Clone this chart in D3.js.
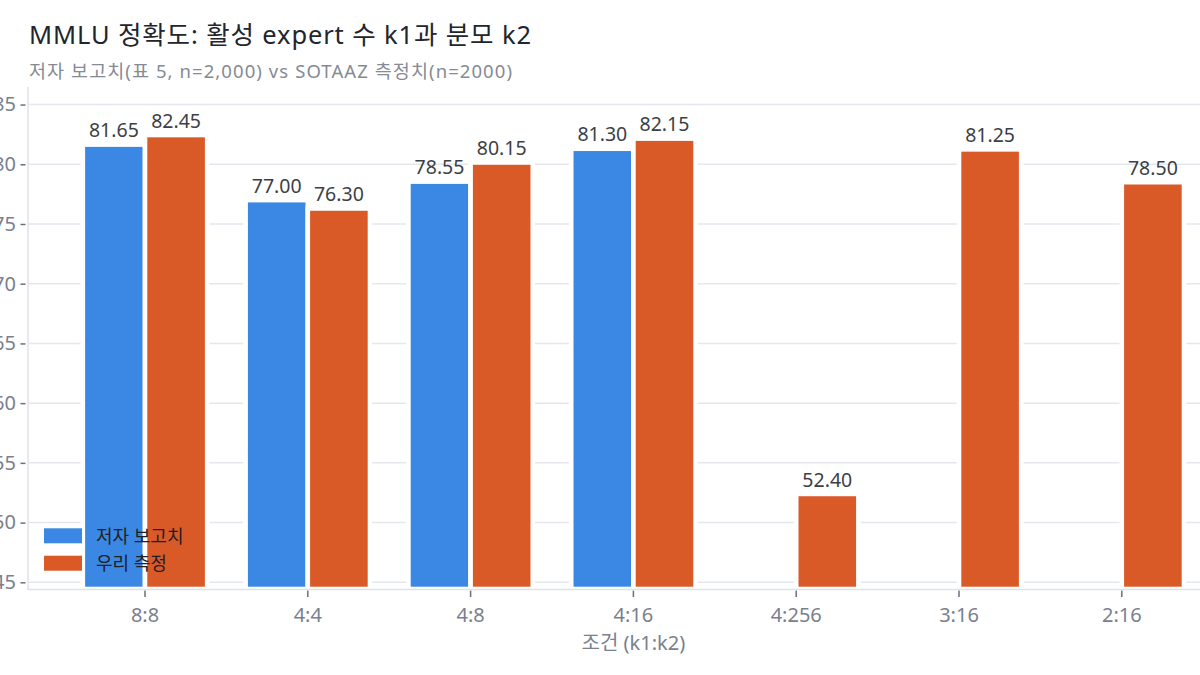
<!DOCTYPE html>
<html>
<head>
<meta charset="utf-8">
<script src="https://cdn.jsdelivr.net/npm/d3@7"></script>
<style>
  body { margin: 0; background: #fff; }
  svg { display: block; font-family: "Noto Sans", "Noto Sans CJK KR", sans-serif; }
</style>
</head>
<body>
<div id="chart"></div>
<script>
// chart values
const categories = ["8:8", "4:4", "4:8", "4:16", "4:256", "3:16", "2:16"];
const reported = [81.65, 77.00, 78.55, 81.30, null, null, null];
const measured = [82.45, 76.30, 80.15, 82.15, 52.40, 81.25, 78.50];
const yTicks = [45, 50, 55, 60, 65, 70, 75, 80, 85];
const seriesNames = ["저자 보고치", "우리 측정"];
const seriesColors = ["#3a88e3", "#d95927"];

const W = 1200, H = 675;
const plot = {left: 28, right: 1200, top: 87, bottom: 589};

const svg = d3.select("#chart").append("svg")
    .attr("width", W)
    .attr("height", H);

// band range runs a bit past the visible plot, like the reference crop
const x = d3.scaleBand()
    .domain(categories)
    .range([63.6, 1203.2]);
const barW = x.bandwidth() * 0.382;

const y = d3.scaleLinear()
    .domain([44.44, 86.47])
    .range([plot.bottom, plot.top]);

svg.append("defs").append("clipPath").attr("id", "clip")
    .append("rect")
    .attr("x", plot.left).attr("y", 0)
    .attr("width", plot.right - plot.left).attr("height", plot.bottom);

// gridlines
svg.append("g")
    .selectAll("line")
    .data(yTicks)
    .enter()
    .append("line")
    .attr("x1", plot.left + 1)
    .attr("x2", plot.right)
    .attr("y1", d => y(d))
    .attr("y2", d => y(d))
    .attr("stroke", "#e5e7ee")
    .attr("stroke-width", 1.5);

// bars
const series = [reported, measured];
const bars = svg.append("g").attr("clip-path", "url(#clip)");
series.forEach((vals, s) => {
    const rows = categories.map((c, i) => ({c: c, v: vals[i]})).filter(d => d.v != null);
    bars.selectAll("rect.s" + s)
        .data(rows)
        .enter()
        .append("rect")
        .attr("class", "s" + s)
        .attr("x", d => x(d.c) + x.bandwidth() / 2 + (s === 0 ? -barW : 0))
        .attr("y", d => y(d.v))
        .attr("width", barW)
        .attr("height", d => plot.bottom - y(d.v))
        .attr("fill", seriesColors[s])
        .attr("stroke", "#fff")
        .attr("stroke-width", 4.6);

    bars.selectAll("text.s" + s)
        .data(rows)
        .enter()
        .append("text")
        .attr("class", "s" + s)
        .attr("text-anchor", "middle")
        .attr("x", d => x(d.c) + x.bandwidth() / 2 + (s === 0 ? -barW / 2 : barW / 2))
        .attr("y", d => y(d.v) - 7.3)
        .attr("font-size", 19.5)
        .attr("fill", "#3c3f45")
        .text(d => d.v.toFixed(2));
});

// axes
const yAxis = svg.append("g")
    .attr("transform", `translate(${plot.left},0)`)
    .call(d3.axisLeft(y).tickValues(yTicks).tickSize(5).tickPadding(6));
yAxis.select(".domain").remove();
yAxis.selectAll(".tick line")
    .attr("x1", -7.5).attr("x2", -2.5)
    .attr("stroke", "#6b7080").attr("stroke-width", 1.5);
yAxis.selectAll(".tick text")
    .attr("x", -12)
    .attr("font-size", 20)
    .attr("font-family", "Noto Sans, sans-serif")
    .attr("fill", "#7a808e");

const xAxis = svg.append("g")
    .attr("transform", `translate(0,${plot.bottom})`)
    .call(d3.axisBottom(x).tickSize(0).tickPadding(0));
xAxis.select(".domain").remove();
xAxis.selectAll(".tick")
    .append("line")
    .attr("y1", 1.5).attr("y2", 8)
    .attr("stroke", "#6b7080").attr("stroke-width", 1.5);
xAxis.selectAll(".tick text")
    .attr("y", 32.5)
    .attr("dy", 0)
    .attr("font-size", 20)
    .attr("font-family", "Noto Sans, sans-serif")
    .attr("fill", "#7a808e");

// axis lines
svg.append("line")
    .attr("x1", plot.left).attr("x2", plot.left)
    .attr("y1", plot.top).attr("y2", plot.bottom + 1)
    .attr("stroke", "#e0e2e8").attr("stroke-width", 1.5);
svg.append("line")
    .attr("x1", plot.left).attr("x2", plot.right)
    .attr("y1", plot.bottom + 0.5).attr("y2", plot.bottom + 0.5)
    .attr("stroke", "#e0e2e8").attr("stroke-width", 1.5);

// axis title, under the middle category
svg.append("text")
    .attr("x", x("4:16") + x.bandwidth() / 2)
    .attr("y", 650)
    .attr("text-anchor", "middle")
    .attr("font-size", 20)
    .attr("fill", "#7a808e")
    .text("조건 (k1:k2)");

// title
svg.append("text")
    .attr("x", 29).attr("y", 44)
    .attr("font-size", 25.5)
    .attr("textLength", 502)
    .attr("lengthAdjust", "spacing")
    .attr("fill", "#22252b")
    .text("MMLU 정확도: 활성 expert 수 k1과 분모 k2");
svg.append("text")
    .attr("x", 29).attr("y", 77.5)
    .attr("font-size", 18.5)
    .attr("textLength", 483)
    .attr("lengthAdjust", "spacing")
    .attr("fill", "#858a96")
    .text("저자 보고치(표 5, n=2,000) vs SOTAAZ 측정치(n=2000)");

// legend
const legend = svg.append("g");
seriesNames.forEach((name, i) => {
    const g = legend.append("g").attr("transform", `translate(44,${528.3 + i * 27.4})`);
    g.append("rect")
        .attr("width", 38).attr("height", 15)
        .attr("fill", seriesColors[i]);
    g.append("text")
        .attr("x", 52).attr("y", 8)
        .attr("dy", "0.35em")
        .attr("font-size", 18)
        .attr("fill", "#1e2026")
        .text(name);
});
</script>
</body>
</html>
